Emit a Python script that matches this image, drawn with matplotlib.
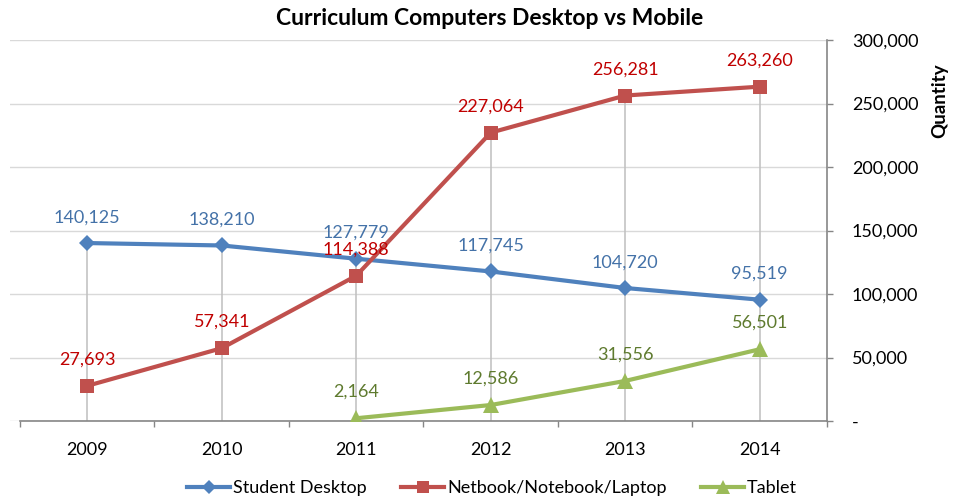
import numpy as np
import matplotlib
matplotlib.use("Agg")
import matplotlib.pyplot as plt
from matplotlib.lines import Line2D
from matplotlib.ticker import FuncFormatter, FixedLocator

plt.rcParams['font.family'] = ['Lato', 'DejaVu Sans']

years = ['2009', '2010', '2011', '2012', '2013', '2014']
desktop = [140125, 138210, 127779, 117745, 104720, 95519]
laptop = [27693, 57341, 114388, 227064, 256281, 263260]
tablet = [np.nan, np.nan, 2164, 12586, 31556, 56501]
series_names = ['Student Desktop', 'Netbook/Notebook/Laptop', 'Tablet']
y_ticks = [0, 50000, 100000, 150000, 200000, 250000, 300000]

line_colors = ['#4F81BD', '#C0504D', '#9BBB59']
label_colors = ['#4472A8', '#C00000', '#5E7A2E']
markers = ['D', 's', '^']
msizes = [8, 10.5, 11.5]
label_off = [18.5, 19, 19]

fig = plt.figure(figsize=(9.68, 5.0), dpi=100)
ax = fig.add_axes([10/968, 79/500, (827-10)/968, (421-40)/500])

x = np.arange(len(years))

# drop lines
all_vals = np.array([desktop, laptop, tablet], dtype=float)
tops = np.nanmax(all_vals, axis=0)
ax.vlines(x, 0, tops, color='#BFBFBF', lw=1.1, zorder=1)

for vals, lc, tc, mk, ms, off in zip([desktop, laptop, tablet], line_colors,
                                     label_colors, markers, msizes, label_off):
    vals = np.array(vals, dtype=float)
    ax.plot(x, vals, color=lc, lw=3, zorder=3, solid_capstyle='round',
            solid_joinstyle='round')
    ax.plot(x, vals, linestyle='none', marker=mk, ms=ms, color=lc,
            markeredgewidth=0, zorder=4)
    for xi, v in zip(x, vals):
        if np.isnan(v):
            continue
        ax.annotate(f'{int(v):,}', (xi, v), xytext=(0, off),
                    textcoords='offset points', ha='center', va='center',
                    color=tc, fontsize=13, zorder=5)

ax.set_xlim(-0.5 - 10/134.6, 5.5)
ax.set_ylim(0, 300000)

# gridlines
ax.yaxis.set_major_locator(FixedLocator(y_ticks))
ax.grid(axis='y', color='#D9D9D9', lw=1, zorder=0)
ax.set_axisbelow(True)

# spines
for s in ['top', 'left']:
    ax.spines[s].set_visible(False)
ax.spines['bottom'].set_bounds(-0.5, 5.5)
ax.spines['bottom'].set_color('#868686')
ax.spines['right'].set_color('#868686')
ax.spines['bottom'].set_linewidth(1.2)
ax.spines['right'].set_linewidth(1.2)

ax.yaxis.tick_right()
ax.yaxis.set_major_formatter(FuncFormatter(lambda v, p: '-' if v == 0 else f'{int(v):,}'))
ax.tick_params(axis='y', which='major', direction='out', length=4, width=1,
               color='#868686', labelsize=13, pad=14, labelcolor='#000000')

ax.set_xticks(x)
ax.set_xticklabels(years)
ax.set_xticks(np.arange(-0.5, 6.0, 1.0), minor=True)
ax.tick_params(axis='x', which='major', length=0, labelsize=13, pad=15)
ax.tick_params(axis='x', which='minor', direction='out', length=4, width=1,
               color='#868686')

fig.text(0.506, 0.963, 'Curriculum Computers Desktop vs Mobile',
         ha='center', va='center', fontsize=16.5, fontweight='bold')
fig.text(940/968, 1 - 101/500, 'Quantity', rotation=90, ha='center',
         va='center', fontsize=13.5, fontweight='bold')

handles = [Line2D([0], [0], color=lc, lw=3, marker=mk, ms=ms * 0.85,
                  markeredgewidth=0)
           for lc, mk, ms in zip(line_colors, markers, msizes)]
fig.legend(handles, series_names, loc='center', bbox_to_anchor=(492/968, 1 - 488/500),
           ncol=3, frameon=False, fontsize=13, handlelength=2.4,
           handletextpad=0.15, columnspacing=1.9)

fig.savefig('out.png', dpi=100)
